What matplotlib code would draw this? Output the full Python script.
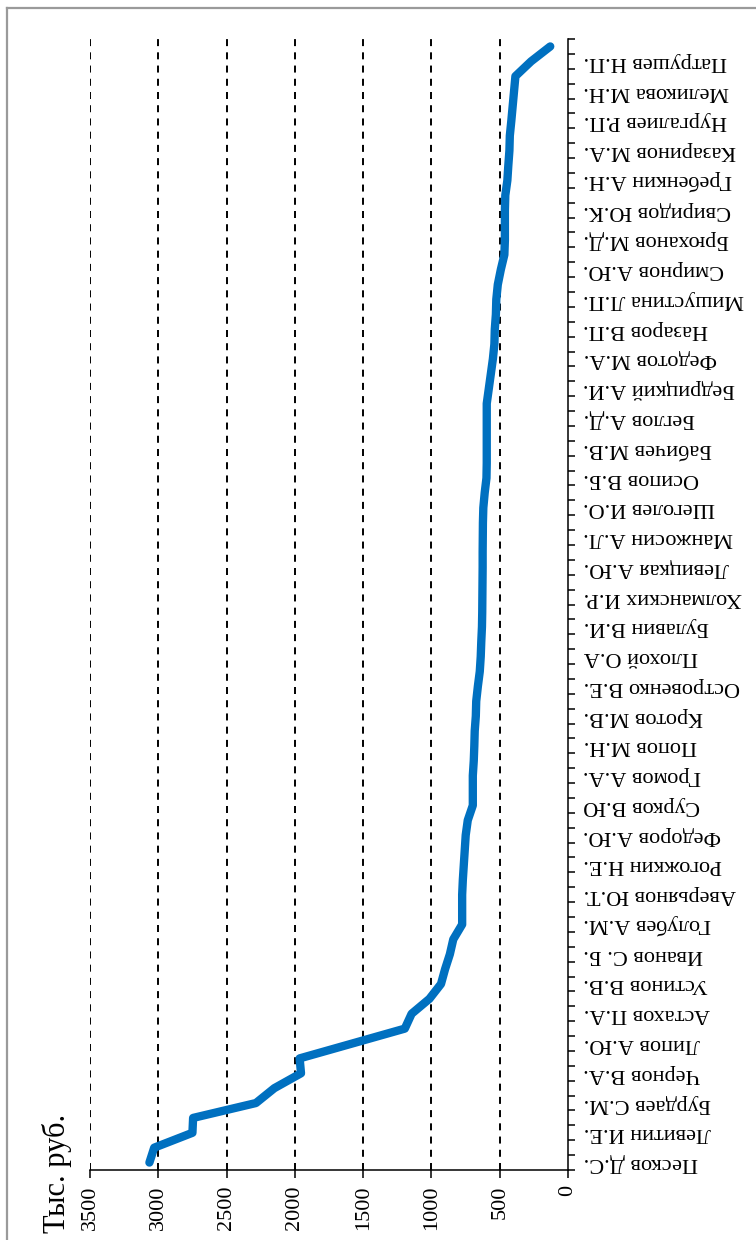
import matplotlib
matplotlib.use("Agg")
import matplotlib.pyplot as plt
from matplotlib.lines import Line2D
import numpy as np

names = ["Песков Д.С.", "Левитин И.Е.", "Бурдаев С.М.", "Чернов В.А.", "Липов А.Ю.",
         "Астахов П.А.", "Устинов В.В.", "Иванов С. Б.", "Голубев А.М.", "Аверьянов Ю.Т.",
         "Рогожкин Н.Е.", "Федоров А.Ю.", "Сурков В.Ю", "Громов А.А.", "Попов М.Н.",
         "Кротов М.В.", "Островенко В.Е.", "Плохой О.А", "Булавин В.И.", "Холманских И.Р.",
         "Левицкая А.Ю.", "Манжосин А.Л.", "Шеголев И.О.", "Осипов В.Б.", "Бабичев М.В.",
         "Беглов А.Д.", "Бедрицкий А.И.", "Федотов М.А.", "Назаров В.П.", "Мишустина Л.П.",
         "Смирнов А.Ю.", "Брюханов М.Д.", "Свиридов Ю.К.", "Гребенкин А.Н.", "Казаринов М.А.",
         "Нургалиев Р.П.", "Меликова М.Н.", "Патрушев Н.П."]

values = [3065, 3030, 2750, 2745, 2285, 2150, 1955, 1965, 1580, 1195,
          1145, 1015, 930, 900, 865, 840, 775, 775, 775, 770,
          763, 756, 749, 734, 697, 697, 697, 690, 686, 683,
          675, 672, 660, 646, 639, 635, 630, 628, 627, 626,
          625, 625, 624, 623, 620, 610, 597, 595, 595, 595,
          595, 595, 580, 565, 550, 539, 536, 528, 525, 514,
          492, 466, 462, 462, 462, 459, 444, 437, 429, 426,
          415, 405, 395, 385, 270, 130]

value_ticks = [0, 500, 1000, 1500, 2000, 2500, 3000, 3500]
unit_label = "Тыс. руб."

plt.rcParams['font.family'] = ['Liberation Serif', 'DejaVu Serif']

W, H = 756, 1240
fig = plt.figure(figsize=(W / 100, H / 100), dpi=100)

# axes placement in pixels
L, R, T, B = 90, 568, 39, 1170
ax = fig.add_axes([L / W, 1 - B / H, (R - L) / W, (B - T) / H])

n = len(values)
pos = np.arange(1, n + 1)
ax.plot(values, pos, color='#0070C0', lw=6, solid_capstyle='round',
        solid_joinstyle='round', zorder=3)

ax.set_xlim(3500, 0)
ax.set_ylim(0.5, n + 0.5)

for v in value_ticks[1:]:
    ax.axvline(v, color='black', lw=1.4, linestyle=(0, (3.6, 3.2)), zorder=1)

ax.set_xticks(value_ticks)
ax.set_xticklabels([str(v) for v in value_ticks], rotation=90, fontsize=16)
ax.tick_params(axis='x', direction='out', length=6, width=1.1, pad=5, colors='black')

ax.yaxis.tick_right()
ax.set_yticks(pos[::2])
ax.set_yticklabels(names, rotation=180, fontsize=16)
ax.set_yticks(np.arange(0.5, n + 1.0, 1.0), minor=True)
ax.tick_params(axis='y', which='major', length=0, pad=11)
ax.tick_params(axis='y', which='minor', direction='out', length=5, width=1.1)
for lbl in ax.get_yticklabels():
    lbl.set_verticalalignment('center')

for s in ['top', 'left']:
    ax.spines[s].set_visible(False)
for s in ['right', 'bottom']:
    ax.spines[s].set_linewidth(1.1)
    ax.spines[s].set_color('black')

fig.text(57 / W, 1 - 1233 / H, unit_label, rotation=90, fontsize=22,
         ha='center', va='bottom')

# figure frame (top and left edges)
fig.add_artist(Line2D([7 / W, 7 / W], [0, 1 - 7.5 / H], transform=fig.transFigure,
                      color='#9a9a9a', lw=1.6))
fig.add_artist(Line2D([7 / W, 1], [1 - 7.5 / H, 1 - 7.5 / H], transform=fig.transFigure,
                      color='#9a9a9a', lw=1.6))

fig.savefig("out.png", dpi=100)
